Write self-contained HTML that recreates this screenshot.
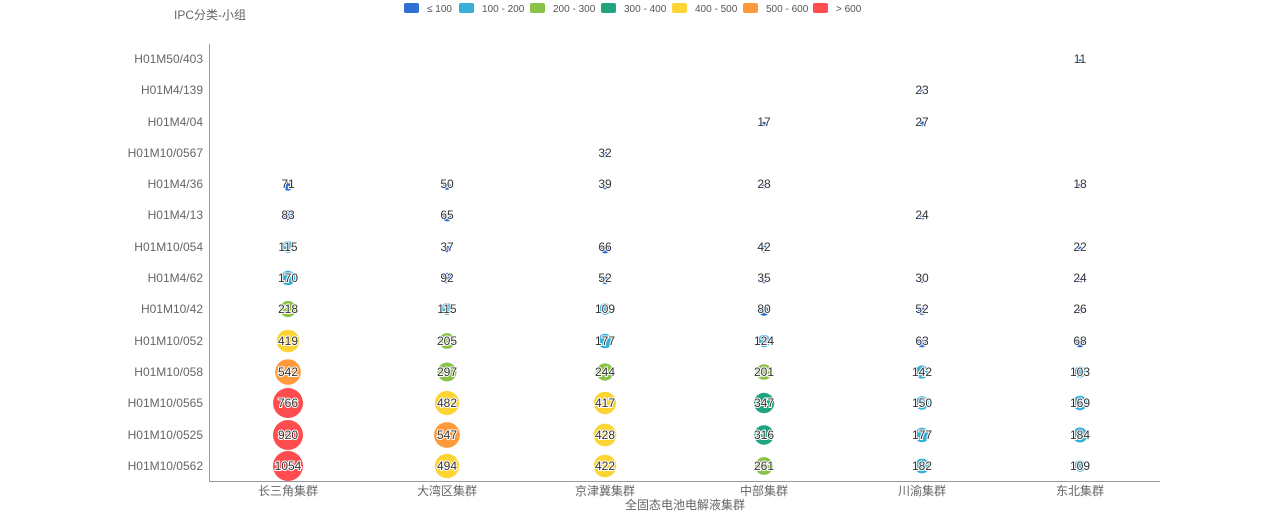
<!DOCTYPE html>
<html><head><meta charset="utf-8"><style>
html,body{margin:0;padding:0;background:#fff;width:1265px;height:514px;overflow:hidden}
svg text{font-family:"Liberation Sans","Noto Sans CJK SC",sans-serif}
</style></head><body>
<svg id="s" width="1265" height="514" xmlns="http://www.w3.org/2000/svg">
<g font-size="10" fill="#555">
<rect x="404" y="3" width="15" height="10" rx="2" fill="#2f6fd6"/><text x="427" y="12">≤ 100</text>
<rect x="459" y="3" width="15" height="10" rx="2" fill="#36b0d6"/><text x="482" y="12">100 - 200</text>
<rect x="530" y="3" width="15" height="10" rx="2" fill="#8bc34a"/><text x="553" y="12">200 - 300</text>
<rect x="601" y="3" width="15" height="10" rx="2" fill="#21a37f"/><text x="624" y="12">300 - 400</text>
<rect x="672" y="3" width="15" height="10" rx="2" fill="#fcd535"/><text x="695" y="12">400 - 500</text>
<rect x="743" y="3" width="15" height="10" rx="2" fill="#ff9a3c"/><text x="766" y="12">500 - 600</text>
<rect x="813" y="3" width="15" height="10" rx="2" fill="#ff4d4f"/><text x="836" y="12">&gt; 600</text>
</g>
<text x="210" y="19" font-size="12" fill="#666" text-anchor="middle">IPC分类-小组</text>
<line x1="209.5" y1="44" x2="209.5" y2="481" stroke="#999"/>
<line x1="209" y1="481.5" x2="1160" y2="481.5" stroke="#999"/>
<text x="685" y="509" font-size="12" fill="#666" text-anchor="middle">全固态电池电解液集群</text>
<g id="g"></g>
</svg>
<script>
var rows=["H01M50/403","H01M4/139","H01M4/04","H01M10/0567","H01M4/36","H01M4/13","H01M10/054","H01M4/62","H01M10/42","H01M10/052","H01M10/058","H01M10/0565","H01M10/0525","H01M10/0562"];
var ry=[59,90,122,153,184,215,247,278,309,341,372,403,435,466];
var cols=["长三角集群","大湾区集群","京津冀集群","中部集群","川渝集群","东北集群"];
var cx=[288,447,605,764,922,1080];
var d=[[0,0,0,0,0,11],[0,0,0,0,23,0],[0,0,0,17,27,0],[0,0,32,0,0,0],[71,50,39,28,0,18],[83,65,0,0,24,0],[115,37,66,42,0,22],[170,92,52,35,30,24],[218,115,109,80,52,26],[419,205,177,124,63,68],[542,297,244,201,142,103],[766,482,417,347,150,169],[920,547,428,316,177,184],[1054,494,422,261,182,109]];
function col(v){return v<=100?"#2f6fd6":v<=200?"#36b0d6":v<=300?"#8bc34a":v<=400?"#21a37f":v<=500?"#fcd535":v<=600?"#ff9a3c":"#ff4d4f"}
var h="";
rows.forEach(function(r,i){h+='<text x="203" y="'+(ry[i]+4)+'" font-size="12" fill="#666" text-anchor="end">'+r+'</text>';});
cols.forEach(function(c,j){h+='<text x="'+cx[j]+'" y="495" font-size="12" fill="#666" text-anchor="middle">'+c+'</text>';});
d.forEach(function(row,i){row.forEach(function(v,j){if(!v)return;var r=Math.min(15,Math.sqrt(v)*0.55);
h+='<circle cx="'+cx[j]+'" cy="'+(ry[i]+(r<5?2:0))+'" r="'+r.toFixed(1)+'" fill="'+col(v)+'"/>';
h+='<text x="'+cx[j]+'" y="'+(ry[i]+4)+'" font-size="12" fill="#333" stroke="#fff" stroke-width="2" paint-order="stroke" text-anchor="middle">'+v+'</text>';});});
document.getElementById("g").innerHTML=h;
</script>
</body></html>
